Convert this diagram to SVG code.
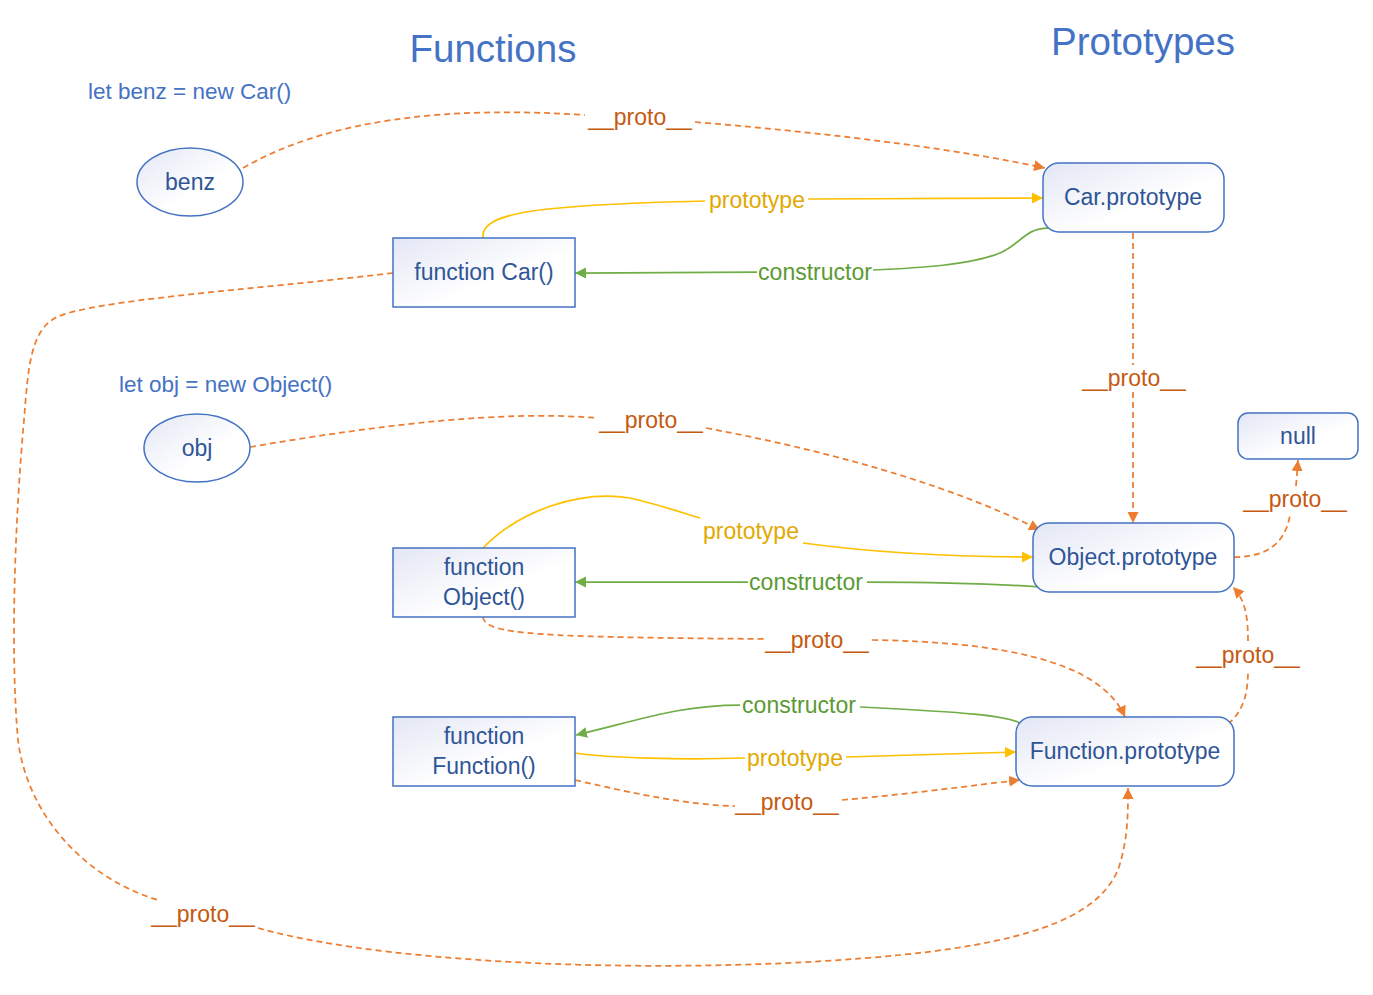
<svg xmlns="http://www.w3.org/2000/svg" width="1373" height="995" viewBox="0 0 1373 995">
<style>
text{font-family:"Liberation Sans",Arial,sans-serif;}
.title{font-size:38.5px;fill:#4472C4;text-anchor:middle;}
.let{font-size:22.5px;fill:#4472C4;}
.nt{font-size:23px;fill:#2F5597;text-anchor:middle;}
.node{fill:url(#g);stroke:#4472C4;stroke-width:1.5;}
.o{fill:none;stroke:#ED7D31;stroke-width:1.75;stroke-dasharray:6 4;}
.y{fill:none;stroke:#FFC000;stroke-width:1.75;}
.gr{fill:none;stroke:#70AD47;stroke-width:1.75;}
.lo{font-size:23px;fill:#C55A11;text-anchor:middle;}
.ly{font-size:23px;fill:#E2A900;text-anchor:middle;}
.lg{font-size:23px;fill:#5B9A32;text-anchor:middle;}
</style>
<defs>
<linearGradient id="g" x1="0" y1="0" x2="1" y2="1">
<stop offset="0" stop-color="#E3E7F5"/>
<stop offset="0.6" stop-color="#FFFFFF"/>
</linearGradient>
<marker id="ao" markerUnits="userSpaceOnUse" markerWidth="13" markerHeight="13" refX="11" refY="6" orient="auto"><path d="M0,0.5 L11,6 L0,11.5 z" fill="#ED7D31"/></marker>
<marker id="ay" markerUnits="userSpaceOnUse" markerWidth="13" markerHeight="13" refX="11" refY="6" orient="auto"><path d="M0,0.5 L11,6 L0,11.5 z" fill="#FFC000"/></marker>
<marker id="ag" markerUnits="userSpaceOnUse" markerWidth="13" markerHeight="13" refX="11" refY="6" orient="auto"><path d="M0,0.5 L11,6 L0,11.5 z" fill="#70AD47"/></marker>
</defs>
<rect width="1373" height="995" fill="#FFFFFF"/>

<text class="title" x="493" y="62">Functions</text>
<text class="title" x="1143" y="55">Prototypes</text>
<text class="let" x="88" y="99">let benz = new Car()</text>
<text class="let" x="119" y="392">let obj = new Object()</text>

<g id="connectors">
<!-- benz -> Car.prototype -->
<path class="o" d="M243 168 C330 118 450 106 585 115"/>
<path class="o" d="M695 122 C850 135 960 150 1045 168" marker-end="url(#ao)"/>
<text class="lo" x="640" y="125">__proto__</text>
<!-- Car() prototype -->
<path class="y" d="M483 238 C480 212 540 205 705 201"/>
<path class="y" d="M808 199 L1043 198" marker-end="url(#ay)"/>
<text class="ly" x="757" y="208">prototype</text>
<!-- Car.prototype constructor -->
<path class="gr" d="M1048 228 C1025 228 1020 245 1000 253 C970 265 920 268 873 270"/>
<path class="gr" d="M757 272 L575 273" marker-end="url(#ag)"/>
<text class="lg" x="815" y="280">constructor</text>
<!-- Car() proto -> Function.prototype -->
<path class="o" d="M393 273 C250 290 90 300 55 318 C30 332 28 370 24 420 C15 520 10 650 18 740 C28 820 90 880 158 900"/>
<path class="o" d="M258 928 C400 968 700 975 900 955 C1050 940 1100 910 1118 870 C1128 840 1128 815 1128 788" marker-end="url(#ao)"/>
<text class="lo" x="203" y="922">__proto__</text>
<!-- Car.prototype -> Object.prototype -->
<path class="o" d="M1133 233 L1133 365"/>
<path class="o" d="M1133 392 L1133 523" marker-end="url(#ao)"/>
<text class="lo" x="1134" y="386">__proto__</text>
<!-- obj -> Object.prototype -->
<path class="o" d="M250 447 C380 425 500 410 598 418"/>
<path class="o" d="M706 428 C850 455 960 490 1040 530" marker-end="url(#ao)"/>
<text class="lo" x="651" y="428">__proto__</text>
<!-- Object() prototype -->
<path class="y" d="M483 548 C520 510 580 490 630 498 C660 505 680 512 700 518"/>
<path class="y" d="M803 543 C870 552 950 557 1033 557" marker-end="url(#ay)"/>
<text class="ly" x="751" y="539">prototype</text>
<!-- Object.prototype constructor -->
<path class="gr" d="M1040 587 C1000 584 930 582 867 582"/>
<path class="gr" d="M748 582 L575 582" marker-end="url(#ag)"/>
<text class="lg" x="806" y="590">constructor</text>
<!-- Object.prototype -> null -->
<path class="o" d="M1234 557 C1265 557 1285 545 1290 515"/>
<path class="o" d="M1296 486 L1298 460" marker-end="url(#ao)"/>
<text class="lo" x="1295" y="507">__proto__</text>
<!-- Object() proto -> Function.prototype -->
<path class="o" d="M483 617 C485 635 540 637 765 639"/>
<path class="o" d="M872 640 C1000 642 1100 660 1125 717" marker-end="url(#ao)"/>
<text class="lo" x="817" y="648">__proto__</text>
<!-- Function.prototype -> Object.prototype -->
<path class="o" d="M1228 724 C1245 710 1248 690 1248 670"/>
<path class="o" d="M1248 641 C1248 615 1245 600 1233 587" marker-end="url(#ao)"/>
<text class="lo" x="1248" y="663">__proto__</text>
<!-- Function.prototype constructor -->
<path class="gr" d="M1024 725 C1010 715 960 712 860 707"/>
<path class="gr" d="M740 705 C680 705 640 720 576 735" marker-end="url(#ag)"/>
<text class="lg" x="799" y="713">constructor</text>
<!-- Function() prototype -->
<path class="y" d="M575 753 C610 758 680 760 745 758"/>
<path class="y" d="M846 757 L1016 752" marker-end="url(#ay)"/>
<text class="ly" x="795" y="766">prototype</text>
<!-- Function() proto -->
<path class="o" d="M575 780 C640 795 690 805 735 806"/>
<path class="o" d="M842 800 C900 795 960 787 1020 780" marker-end="url(#ao)"/>
<text class="lo" x="787" y="810">__proto__</text>
</g>

<g id="benz"><ellipse class="node" cx="190" cy="182" rx="53" ry="34"/><text class="nt" x="190" y="190">benz</text></g>
<g id="obj"><ellipse class="node" cx="197" cy="448" rx="53" ry="34"/><text class="nt" x="197" y="456">obj</text></g>
<g id="funcCar"><rect class="node" x="393" y="238" width="182" height="69"/><text class="nt" x="484" y="280">function Car()</text></g>
<g id="funcObject"><rect class="node" x="393" y="548" width="182" height="69"/><text class="nt" x="484" y="575">function</text><text class="nt" x="484" y="605">Object()</text></g>
<g id="funcFunction"><rect class="node" x="393" y="717" width="182" height="69"/><text class="nt" x="484" y="744">function</text><text class="nt" x="484" y="774">Function()</text></g>
<g id="carProto"><rect class="node" x="1043" y="163" width="181" height="69" rx="16"/><text class="nt" x="1133" y="205">Car.prototype</text></g>
<g id="null"><rect class="node" x="1238" y="413" width="120" height="46" rx="10"/><text class="nt" x="1298" y="444">null</text></g>
<g id="objProto"><rect class="node" x="1033" y="523" width="201" height="69" rx="16"/><text class="nt" x="1133" y="565">Object.prototype</text></g>
<g id="funcProto"><rect class="node" x="1016" y="717" width="218" height="69" rx="16"/><text class="nt" x="1125" y="759">Function.prototype</text></g>
</svg>
